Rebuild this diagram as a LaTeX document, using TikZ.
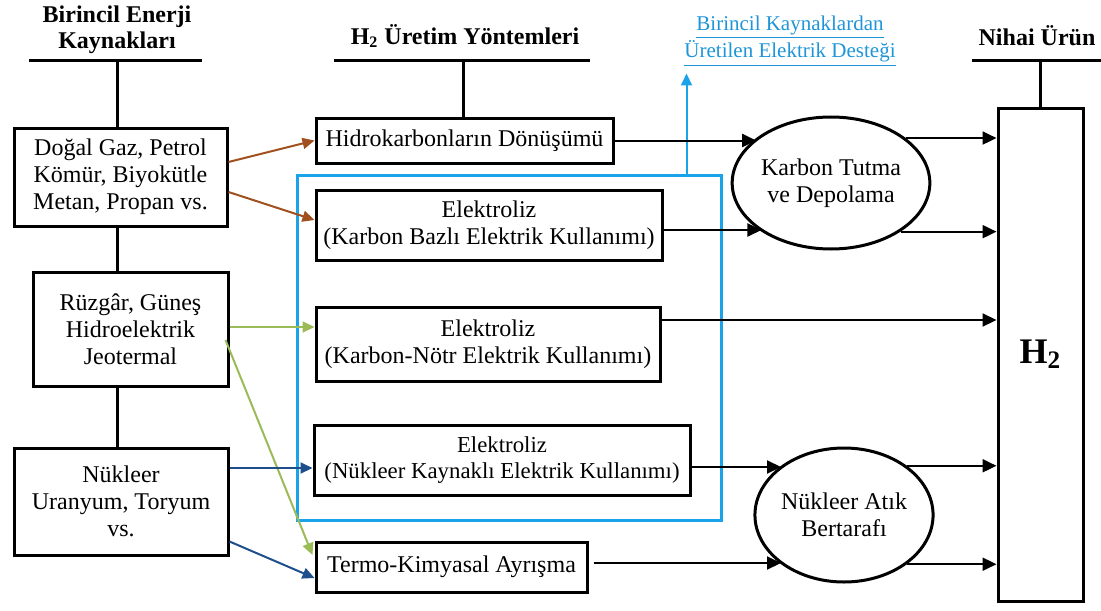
\documentclass[tikz,border=0pt]{standalone}
\usepackage{fontspec}
\setmainfont{Liberation Serif}
\usetikzlibrary{arrows.meta,shapes.geometric,calc}
\definecolor{brownarr}{HTML}{A0501E}
\definecolor{greenarr}{HTML}{9BBB59}
\definecolor{darkarr}{HTML}{1F4E8C}
\definecolor{lblue}{HTML}{1AA3E8}
\definecolor{lbltext}{HTML}{1E95D8}
\begin{document}
\begin{tikzpicture}[x=0.5pt,y=-0.5pt,
  box/.style={draw, line width=1.5pt, align=center, inner sep=0pt, font=\fontsize{12}{13.5}\selectfont},
  ell/.style={draw, ellipse, line width=1.5pt, align=center, inner sep=0pt, font=\fontsize{12}{13.5}\selectfont},
  hdr/.style={align=center, inner sep=0pt, font=\fontsize{12}{13}\selectfont\bfseries},
  bar/.style={line width=1.5pt},
  karr/.style={line width=1pt, -{Triangle[length=7pt,width=6.5pt]}},
  barr/.style={brownarr, line width=1pt, -{Triangle[length=6pt,width=5.5pt]}},
  garr/.style={greenarr, line width=1pt, -{Triangle[length=6pt,width=5.5pt]}},
  darr/.style={darkarr, line width=1pt, -{Triangle[length=6pt,width=5.5pt]}}]
\useasboundingbox (0,0) rectangle (1101,610);

% headers
\node[hdr] (hA) at (117,30) {Birincil Enerji\\Kaynakları};
\node[hdr] (hB) at (465,36) {H\textsubscript{2} Üretim Yöntemleri};
\node[hdr] (hC) at (1037,36) {Nihai Ürün};
\node[align=center, inner sep=0pt, text=lbltext, font=\fontsize{10.5}{11}\selectfont] (sup) at (790,41)
  {\underline{Birincil Kaynaklardan}\\\underline{Üretilen Elektrik Desteği}};

% group rectangle
\node[draw=lblue, line width=1.5pt, minimum width=212pt, minimum height=172.5pt, inner sep=0pt] (grp) at (509,347.5) {};

% source boxes
\node[box, minimum width=106.5pt, minimum height=49pt] (src1) at (120.5,177) {Doğal Gaz, Petrol\\Kömür, Biyokütle\\Metan, Propan vs.};
\node[box, minimum width=97.5pt, minimum height=57pt] (src2) at (130.5,329) {Rüzgâr, Güneş\\Hidroelektrik\\Jeotermal};
\node[box, minimum width=107pt, minimum height=53.5pt] (src3) at (121,501.5) {Nükleer\\Uranyum, Toryum\\vs.};

% method boxes
\node[box, minimum width=148.5pt, minimum height=22.5pt] (hk) at (464.5,140.5) {Hidrokarbonların Dönüşümü};
\node[box, minimum width=173pt, minimum height=35pt] (e1) at (489,225) {Elektroliz\\(Karbon Bazlı Elektrik Kullanımı)};
\node[box, minimum width=172pt, minimum height=37pt] (e2) at (488,344) {Elektroliz\\(Karbon-Nötr Elektrik Kullanımı)};
\node[box, minimum width=188pt, minimum height=35pt, font=\fontsize{11.4}{13}\selectfont] (e3) at (502,460) {Elektroliz\\(Nükleer Kaynaklı Elektrik Kullanımı)};
\node[box, minimum width=135.5pt, minimum height=25pt] (tk) at (451.5,567) {Termo-Kimyasal Ayrışma};

% ellipses
\node[ell, minimum width=96pt, minimum height=66pt] (ell1) at (831,183) {Karbon Tutma\\ve Depolama};
\node[ell, minimum width=88pt, minimum height=67pt] (ell2) at (844,515) {Nükleer Atık\\Bertarafı};

% H2
\node[draw, line width=1.5pt, minimum width=42.5pt, minimum height=246.5pt, inner sep=0pt, font=\fontsize{18}{20}\selectfont\bfseries] (h2) at (1040.5,354.5) {H\textsubscript{2}};

% header bars
\coordinate (barAL) at (29,61); \coordinate (barAR) at (202,61); \coordinate (barAm) at (117,61);
\coordinate (barBL) at (334,61); \coordinate (barBR) at (590,61); \coordinate (barBm) at (463,61);
\coordinate (barCL) at (972,61); \coordinate (barCR) at (1101,61); \coordinate (barCm) at (1040,61);
\draw[bar] (barAL) -- (barAR);
\draw[bar] (barBL) -- (barBR);
\draw[bar] (barCL) -- (barCR);
\draw[bar] (barAm) -- (barAm |- src1.north);
\draw[bar] (barAm |- src1.south) -- (barAm |- src2.north);
\draw[bar] (barAm |- src2.south) -- (barAm |- src3.north);
\draw[bar] (barBm) -- (barBm |- hk.north);
\draw[bar] (barCm) -- (barCm |- h2.north);

% blue arrow to label
\draw[lblue, line width=1pt, -{Triangle[length=6pt,width=5.5pt]}] ($(grp.north east)+(-36,0)$) -- ++(0,-100);

% coloured arrows
\draw[barr] ($(src1.east)+(0,-15)$) -- (hk.west);
\draw[barr] ($(src1.east)+(0,15)$) -- ($(e1.west)+(0,-5)$);
\draw[garr] ($(src2.east)+(0,-2)$) -- ($(e2.west)+(0,-17)$);
\draw[garr] ($(src2.east)+(-4,11)$) -- ($(tk.west)+(-2,-12)$);
\draw[darr] ($(src3.east)+(0,-33.5)$) -- ($(e3.west)+(0,8)$);
\draw[darr] ($(src3.east)+(0,40)$) -- ($(tk.west)+(0,11)$);

% black arrows
\path ($(e1.east)+(0,5)$) coordinate (e1o);
\path ($(e2.east)+(0,-24)$) coordinate (e2o);
\path ($(e3.east)+(0,7)$) coordinate (e3o);
\path ($(tk.east)+(5,-4)$) coordinate (tko);
\draw[karr] (hk.east) -- (hk.east -| ell1.149);
\draw[karr] (e1o) -- (e1o -| ell1.215);
\draw[karr] (ell1.31) -- (ell1.31 -| h2.west);
\draw[karr] (ell1.-35) -- (ell1.-35 -| h2.west);
\draw[karr] (e2o) -- (e2o -| h2.west);
\draw[karr] (e3o) -- (e3o -| ell2.142);
\draw[karr] (tko) -- (tko -| ell2.218);
\draw[karr] (ell2.38) -- (ell2.38 -| h2.west);
\draw[karr] (ell2.-38) -- (ell2.-38 -| h2.west);
\end{tikzpicture}
\end{document}
